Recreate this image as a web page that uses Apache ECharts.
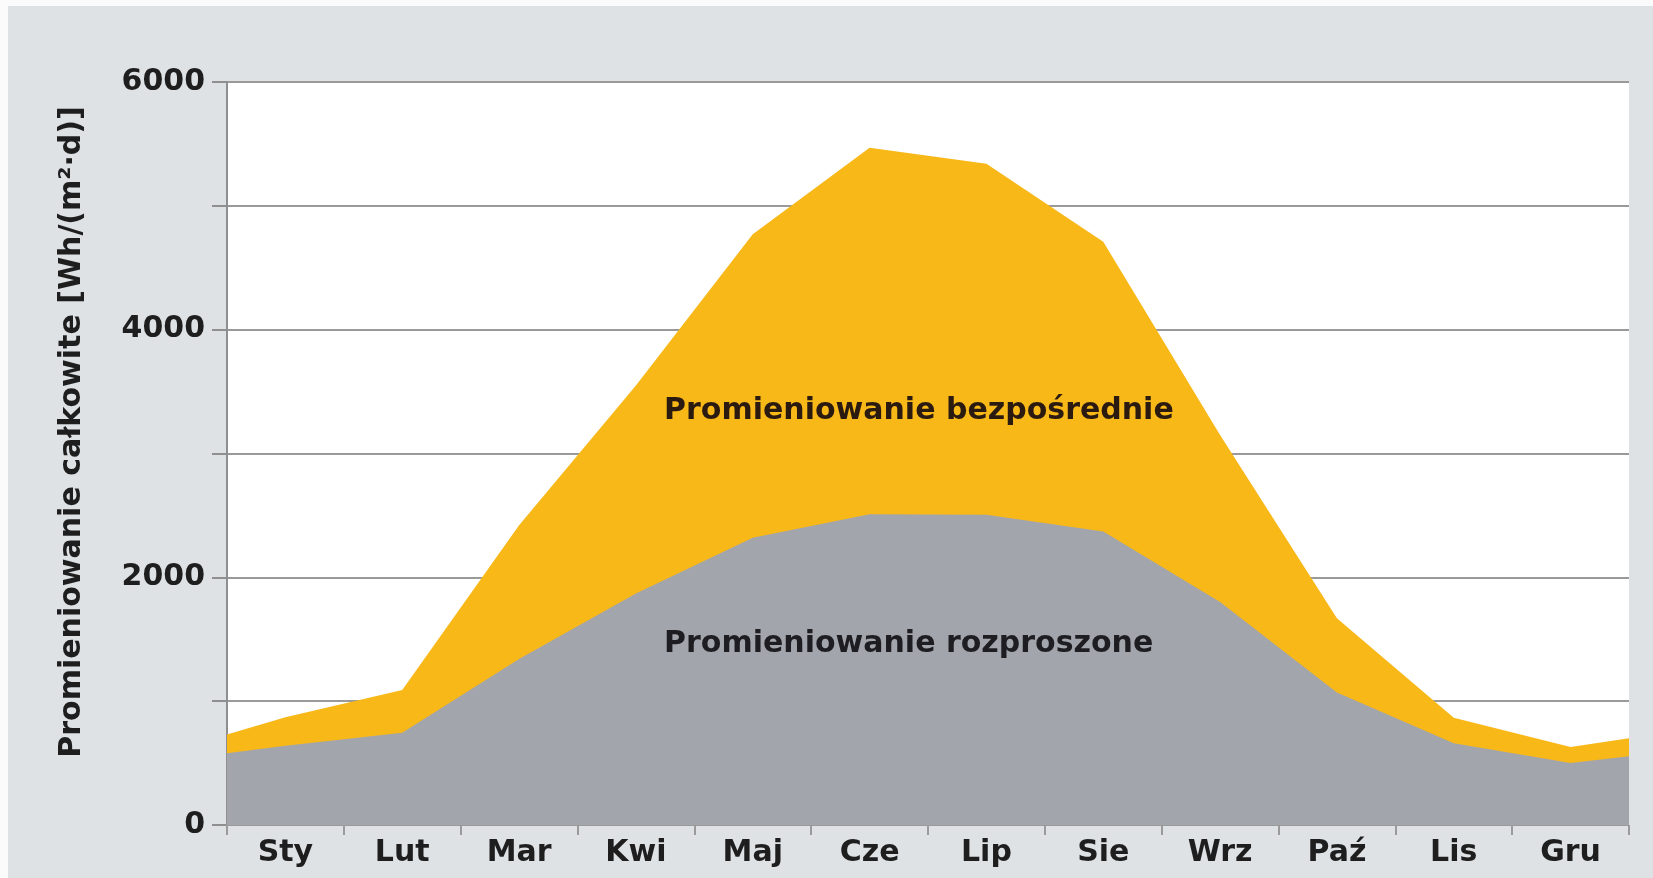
<!DOCTYPE html>
<html>
<head>
<meta charset="utf-8">
<script src="https://cdn.jsdelivr.net/npm/echarts@6/dist/echarts.min.js"></script>
<style>
  html, body { margin: 0; padding: 0; background: #fbfbfb; }
  #chart { position: absolute; left: 8px; top: 6px; width: 1645px; height: 872px; }
</style>
</head>
<body>
<div id="chart"></div>
<script>
// miesiące
const months = ['Sty', 'Lut', 'Mar', 'Kwi', 'Maj', 'Cze', 'Lip', 'Sie', 'Wrz', 'Paź', 'Lis', 'Gru'];
const yTicks = [0, 2000, 4000, 6000];
// promieniowanie rozproszone (środek miesiąca)
const diffuse = [640, 745, 1340, 1870, 2320, 2510, 2505, 2370, 1800, 1070, 660, 500];
// promieniowanie bezpośrednie (nad rozproszonym)
const direct = [230, 345, 1080, 1680, 2450, 2960, 2835, 2340, 1350, 600, 206, 130];
// wartości na lewej i prawej krawędzi wykresu
const diffuseEdges = [580, 555];
const directEdges = [150, 145];

const chart = echarts.init(document.getElementById('chart'));

function withEdges(vals, edges) {
  const out = [[0, edges[0]]];
  vals.forEach((v, i) => out.push([i + 0.5, v]));
  out.push([months.length, edges[1]]);
  return out;
}

// stack na osi wartości nie działa tu dobrze, więc sumujemy sami
const total = diffuse.map((v, i) => v + direct[i]);
const totalEdges = diffuseEdges.map((v, i) => v + directEdges[i]);

const font = 'DejaVu Sans';

const option = {
  backgroundColor: '#dee2e5',
  animation: false,
  grid: {
    left: 219, right: 24, top: 76, bottom: 53,
    show: true, backgroundColor: '#ffffff', borderWidth: 0
  },
  xAxis: [
    {
      type: 'value', min: 0, max: months.length, show: false
    },
    {
      type: 'category', data: months, boundaryGap: true, position: 'bottom',
      axisLine: { show: false },
      axisTick: { show: true, length: 10, lineStyle: { color: '#9a9a9a', width: 2 } },
      axisLabel: { color: '#1e1e1e', fontFamily: font, fontWeight: 'bold', fontSize: 30, margin: 13 },
      splitLine: { show: false }
    }
  ],
  yAxis: {
    type: 'value', min: 0, max: 6000, interval: 1000,
    axisLine: { show: true, lineStyle: { color: '#8f8f8f', width: 2 } },
    axisTick: { show: true, length: 15, lineStyle: { color: '#8f8f8f', width: 2 } },
    axisLabel: {
      color: '#1e1e1e', fontFamily: font, fontWeight: 'bold', fontSize: 30, margin: 22,
      formatter: v => (yTicks.indexOf(v) >= 0 ? String(v) : '')
    },
    splitLine: { show: true, lineStyle: { color: '#9a9a9a', width: 2 } }
  },
  series: [
    {
      name: 'Promieniowanie bezpośrednie', type: 'line',
      xAxisIndex: 0, data: withEdges(total, totalEdges),
      symbol: 'none', lineStyle: { width: 0 },
      areaStyle: { color: '#f7b818', opacity: 1 }, z: 3
    },
    {
      name: 'Promieniowanie rozproszone', type: 'line',
      xAxisIndex: 0, data: withEdges(diffuse, diffuseEdges),
      symbol: 'none', lineStyle: { width: 0 },
      areaStyle: { color: '#a3a5ad', opacity: 1 }, z: 4
    }
  ],
  graphic: [
    {
      type: 'text', x: 64, y: 426, rotation: Math.PI / 2,
      style: {
        text: 'Promieniowanie całkowite [Wh/(m²·d)]',
        font: 'bold 30px "DejaVu Sans"', fill: '#1e1e1e',
        textAlign: 'center', textVerticalAlign: 'middle'
      }
    },
    {
      type: 'text', x: 656, y: 405, z: 10,
      style: {
        text: 'Promieniowanie bezpośrednie',
        font: 'bold 30px "DejaVu Sans"', fill: '#2a1a10',
        textAlign: 'left', textVerticalAlign: 'middle'
      }
    },
    {
      type: 'text', x: 656, y: 638, z: 10,
      style: {
        text: 'Promieniowanie rozproszone',
        font: 'bold 30px "DejaVu Sans"', fill: '#1e1e22',
        textAlign: 'left', textVerticalAlign: 'middle'
      }
    }
  ]
};

chart.setOption(option);
</script>
</body>
</html>
